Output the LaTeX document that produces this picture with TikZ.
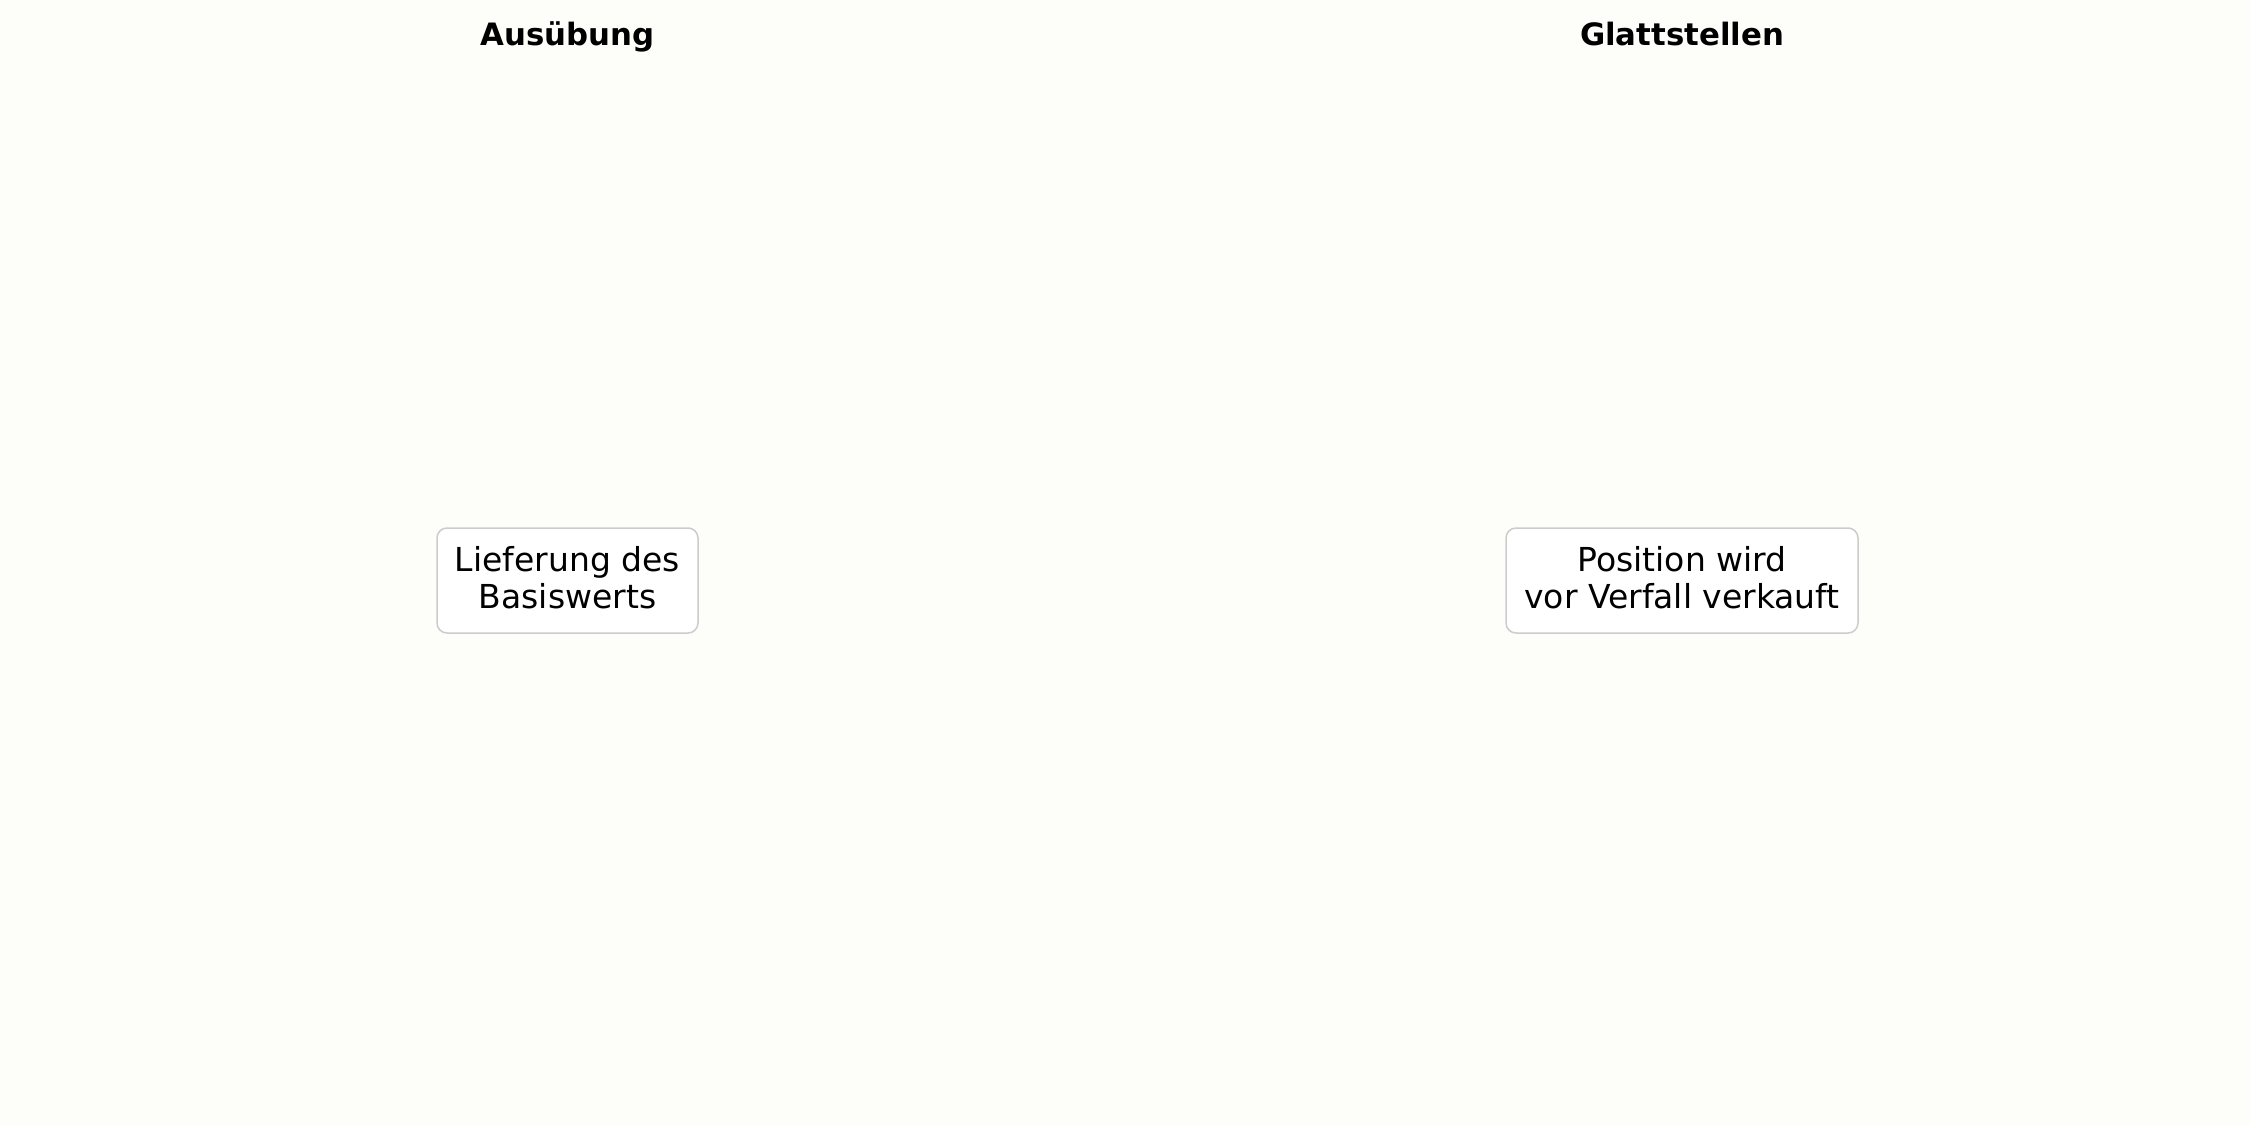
\documentclass[tikz,border=0pt]{standalone}
\usepackage{fontspec}
\setmainfont{DejaVu Sans}
\definecolor{bgcol}{HTML}{FDFDF9}
\definecolor{boxline}{HTML}{CCCCCC}
\newcommand{\dstrut}{\rule[-3.5pt]{0pt}{3.5pt}}
\begin{document}
\begin{tikzpicture}[x=0.5pt,y=-0.5pt,
  title/.style={anchor=base,font=\fontsize{15.4}{18}\selectfont\bfseries,inner sep=0pt},
  infobox/.style={draw=boxline,line width=0.75pt,fill=white,rounded corners=5pt,
    align=center,inner sep=0pt,font=\fontsize{16.5}{18.5}\selectfont,
    minimum height=52.5pt}]
\fill[bgcol] (0,0) rectangle (2250,1125);
\useasboundingbox (0,0) rectangle (2250,1125);
\node[title] (t1) at (567.5,45) {Ausübung};
\node[title] (t2) at (1682,45) {Glattstellen};
\node[infobox,minimum width=130.5pt] (b1) at (567.5,580.5) {Lieferung des\\Basiswerts\dstrut};
\node[infobox,minimum width=176pt] (b2) at (1682,580.5) {Position wird\\vor Verfall verkauft\dstrut};
\end{tikzpicture}
\end{document}
